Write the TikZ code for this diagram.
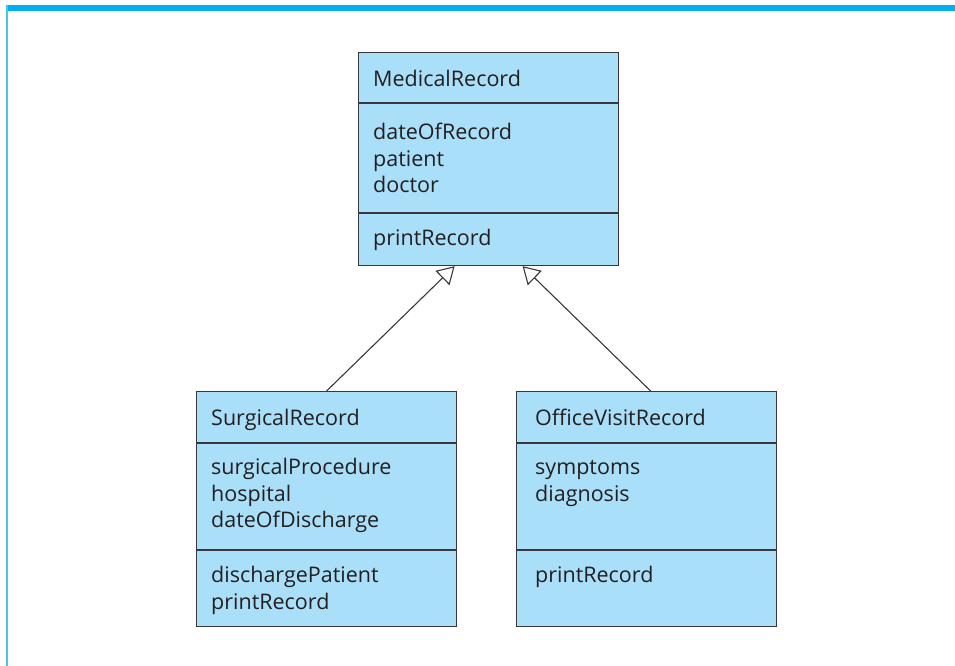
\documentclass[tikz,border=0pt]{standalone}
\usepackage{fontspec}
\setmainfont{Open Sans}
\usetikzlibrary{arrows.meta}
\definecolor{boxfill}{RGB}{170,223,249}
\definecolor{boxline}{RGB}{55,55,60}
\definecolor{framecyan}{RGB}{0,174,239}
\definecolor{framelight}{RGB}{70,196,242}
\definecolor{inkgray}{RGB}{35,31,32}
\tikzset{
  classbox/.style={draw=boxline, fill=boxfill, line width=1.2pt, anchor=north west,
    inner sep=0pt, minimum width=260pt},
  member/.style={anchor=base west, inner sep=0pt, text=inkgray,
    font=\fontsize{21.5}{26}\selectfont},
  inherit/.style={draw=boxline, line width=1.1pt,
    -{Triangle[open, length=17pt, width=20pt, line width=1.1pt]}}
}
\begin{document}
\begin{tikzpicture}[x=1pt,y=-1pt]
\useasboundingbox (0,0) rectangle (955,666);
% frame
\fill[framecyan] (6,5) rectangle (955,11);
\draw[framelight, line width=1.6pt] (6.8,5) -- (6.8,666);
% the three classes
\node[classbox, minimum height=213pt] (medical) at (358,52) {};
\node[classbox, minimum height=235pt] (surgical) at (196,391) {};
\node[classbox, minimum height=235pt] (office) at (516,391) {};
\draw[boxline, line width=1.1pt] (358,103) -- (618,103) (358,213) -- (618,213);
\foreach \x in {196,516}
  \draw[boxline, line width=1.1pt] (\x,443) -- (\x+260,443) (\x,550) -- (\x+260,550);
% names
\node[member] (medname) at (373,86.5) {MedicalRecord};
\node[member] (surgname) at (211,425.5) {SurgicalRecord};
\node[member] (offname) at (535,425.5) {OfficeVisitRecord};
% attributes
\foreach \t [count=\i] in {dateOfRecord,patient,doctor}
  \node[member] (medattr\i) at (373,{139.5+26.5*(\i-1)}) {\t};
\foreach \t [count=\i] in {surgicalProcedure,hospital,dateOfDischarge}
  \node[member] (surgattr\i) at (211,{474.5+26.5*(\i-1)}) {\t};
\foreach \t [count=\i] in {symptoms,diagnosis}
  \node[member] (offattr\i) at (535,{474.5+26.5*(\i-1)}) {\t};
% operations
\node[member] (medop) at (373,245.5) {printRecord};
\foreach \t [count=\i] in {dischargePatient,printRecord}
  \node[member] (surgop\i) at (211,{582.5+26.5*(\i-1)}) {\t};
\node[member] (offop) at (535,582.5) {printRecord};
% generalization
\draw[inherit] (surgical.north) -- ([xshift=-34pt]medical.south);
\draw[inherit] ([xshift=4pt]office.north) -- ([xshift=34pt]medical.south);
\end{tikzpicture}
\end{document}
